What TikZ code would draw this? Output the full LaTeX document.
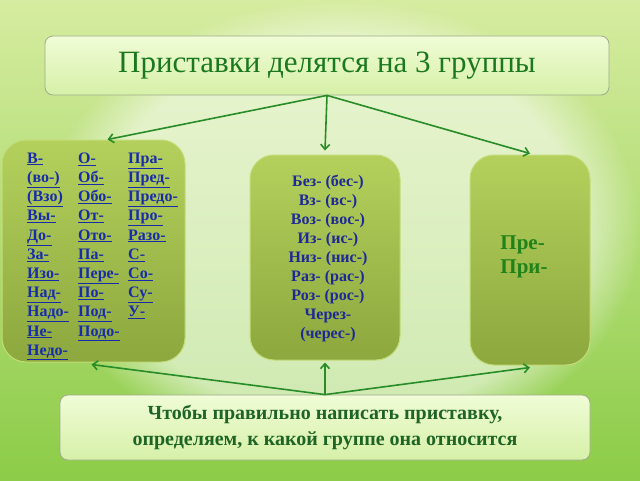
\documentclass[tikz,border=0pt]{standalone}
\usepackage{fontspec}
\setmainfont{Liberation Serif}
\usetikzlibrary{arrows.meta, fadings}
\definecolor{bgtop}{RGB}{214,236,160}
\definecolor{bgbottom}{RGB}{140,204,72}
\definecolor{boxtop}{RGB}{180,208,92}
\definecolor{boxbottom}{RGB}{140,168,62}
\definecolor{boxedge}{RGB}{196,220,120}
\definecolor{notetop}{RGB}{240,252,214}
\definecolor{notebottom}{RGB}{214,240,168}
\definecolor{noteedge}{RGB}{160,172,140}
\definecolor{arrowgreen}{RGB}{40,140,40}
\definecolor{titlegreen}{RGB}{26,120,30}
\definecolor{hintgreen}{RGB}{30,100,36}
\definecolor{linkblue}{RGB}{24,44,170}
\definecolor{inkblue}{RGB}{30,40,150}
\definecolor{pregreen}{RGB}{34,130,26}
\begin{document}
\begin{tikzpicture}[x=1pt, y=-1pt,
        group box/.style={draw=boxedge, line width=1pt, rounded corners=24pt, top color=boxtop, bottom color=boxbottom, inner sep=0pt},
        note box/.style={draw=noteedge, line width=0.8pt, rounded corners=8pt, top color=notetop, bottom color=notebottom, inner sep=0pt},
        link/.style={draw=arrowgreen, line width=1.6pt, -{Straight Barb[length=5pt, width=9pt]}},
        blue word/.style={anchor=base west, inner sep=0pt, text=linkblue, font=\fontsize{16}{19}\selectfont\bfseries},
        ink word/.style={anchor=base, inner sep=0pt, text=inkblue, font=\fontsize{16}{19}\selectfont\bfseries},
    ]
	% background
	\useasboundingbox (0,0) rectangle (640,480);
	\fill[top color=bgtop, bottom color=bgbottom] (0,0) rectangle (640,480);
	\fill[white, opacity=0.55, path fading=circle with fuzzy edge 20 percent] (340,230) ellipse (300 and 230);
	% boxes
	\node[note box, minimum width=564pt, minimum height=59pt] (title) at (327,65.5) {};
	\node[group box, minimum width=183pt, minimum height=222pt] (lbox) at (93.5,251) {};
	\node[group box, minimum width=150pt, minimum height=205pt] (mbox) at (325,257.5) {};
	\node[group box, minimum width=120pt, minimum height=210pt] (rbox) at (530,260) {};
	\node[note box, minimum width=530pt, minimum height=65pt] (hint) at (325,427.5) {};
	% texts
	\node[inner sep=0pt, text=titlegreen, font=\fontsize{31}{34}\selectfont] (titletext) at (title.center) {Приставки делятся на 3 группы};
	\node[inner sep=0pt, align=center, text=hintgreen, font=\fontsize{20}{26}\selectfont\bfseries] (hinttext) at (hint.center) {Чтобы правильно написать приставку,\\определяем, к какой группе она относится};
	\foreach \w [count=\i] in {В-,(во-),(Взо),Вы-,До-,За-,Изо-,Над-,Надо-,Не-,Недо-}
		\node[blue word] (la\i) at (27,144+19.2*\i) {\underline{\w}};
	\foreach \w [count=\i] in {О-,Об-,Обо-,От-,Ото-,Па-,Пере-,По-,Под-,Подо-}
		\node[blue word] (lb\i) at (78,144+19.2*\i) {\underline{\w}};
	\foreach \w [count=\i] in {Пра-,Пред-,Предо-,Про-,Разо-,С-,Со-,Су-,У-}
		\node[blue word] (lc\i) at (128,144+19.2*\i) {\underline{\w}};
	\foreach \w [count=\i] in {Без- (бес-),Вз- (вс-),Воз- (вос-),Из- (ис-),Низ- (нис-),Раз- (рас-),Роз- (рос-),Через-,(черес-)}
		\node[ink word] (m\i) at (328,167+19.1*\i) {\w};
	\node[inner sep=0pt, align=left, text=pregreen, font=\fontsize{21}{24}\selectfont\bfseries] (pre) at (524,257) {Пре-\\При-};
	% arrows
	\draw[link] (title.south) -- ([xshift=14pt]lbox.north);
	\draw[link] (title.south) -- ([yshift=4pt]mbox.north);
	\draw[link] (title.south) -- ([yshift=1pt]rbox.north);
	\draw[link] (hint.north) -- ([xshift=-2pt, yshift=-2pt]lbox.south);
	\draw[link] (hint.north) -- ([yshift=-2pt]mbox.south);
	\draw[link] (hint.north) -- ([yshift=-2pt]rbox.south);
\end{tikzpicture}
\end{document}
